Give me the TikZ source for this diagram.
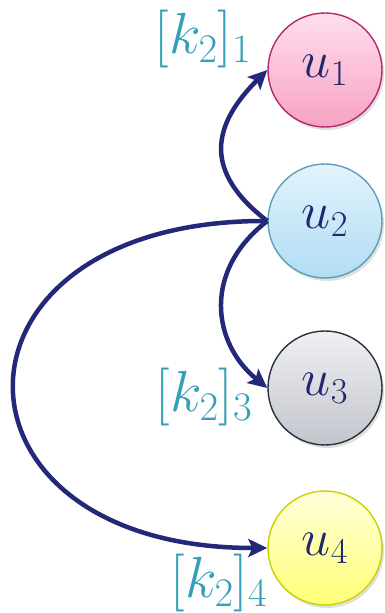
\RequirePackage{fix-cm}
\documentclass[tikz,border=0pt]{standalone}
\usetikzlibrary{arrows.meta,shadows}
\definecolor{arrownavy}{RGB}{35,40,120}
\definecolor{textnavy}{RGB}{30,40,110}
\definecolor{labelteal}{RGB}{50,160,182}
\definecolor{pinktop}{RGB}{255,222,236}
\definecolor{pinkbot}{RGB}{247,162,196}
\definecolor{pinkline}{RGB}{180,40,110}
\definecolor{bluetop}{RGB}{228,243,252}
\definecolor{bluebot}{RGB}{176,221,243}
\definecolor{blueline}{RGB}{95,158,186}
\definecolor{greytop}{RGB}{240,240,243}
\definecolor{greybot}{RGB}{194,197,204}
\definecolor{greyline}{RGB}{40,50,60}
\definecolor{yellowtop}{RGB}{255,255,218}
\definecolor{yellowbot}{RGB}{255,255,118}
\definecolor{yellowline}{RGB}{200,212,0}
\tikzset{
  unode/.style={circle, minimum size=114pt, inner sep=0pt, line width=1.4pt,
    text=textnavy, font=\fontsize{52}{52}\selectfont,
    drop shadow={opacity=0.25, shadow xshift=2pt, shadow yshift=-3pt}},
  klabel/.style={text=labelteal, font=\fontsize{58}{58}\selectfont, inner sep=0pt},
  conn/.style={draw=arrownavy, line width=4.5pt,
    -{Stealth[length=19pt,width=18pt,inset=4pt]}}
}
\begin{document}
\begin{tikzpicture}[x=1pt,y=1pt]
\useasboundingbox (0,0) rectangle (384,613);
\node[unode, draw=pinkline, top color=pinktop, bottom color=pinkbot] (u1) at (325,543) {$u_1$};
\node[unode, draw=blueline, top color=bluetop, bottom color=bluebot] (u2) at (325,392) {$u_2$};
\node[unode, draw=greyline, top color=greytop, bottom color=greybot] (u3) at (325,225) {$u_3$};
\node[unode, draw=yellowline, top color=yellowtop, bottom color=yellowbot] (u4) at (325,65) {$u_4$};
\node[klabel] (l1) at (203,574) {$[k_2]_1$};
\node[klabel] (l3) at (204,216) {$[k_2]_3$};
\node[klabel] (l4) at (219,30) {$[k_2]_4$};
\draw[conn] (u2.west) .. controls +(-65,50) and +(-55,-55) .. (u1.west);
\draw[conn] (u2.west) .. controls +(-65,-50) and +(-55,45) .. (u3.west);
\draw[conn] (u2.west) .. controls +(-337,2) and +(-337,0) .. (u4.west);
\end{tikzpicture}
\end{document}
